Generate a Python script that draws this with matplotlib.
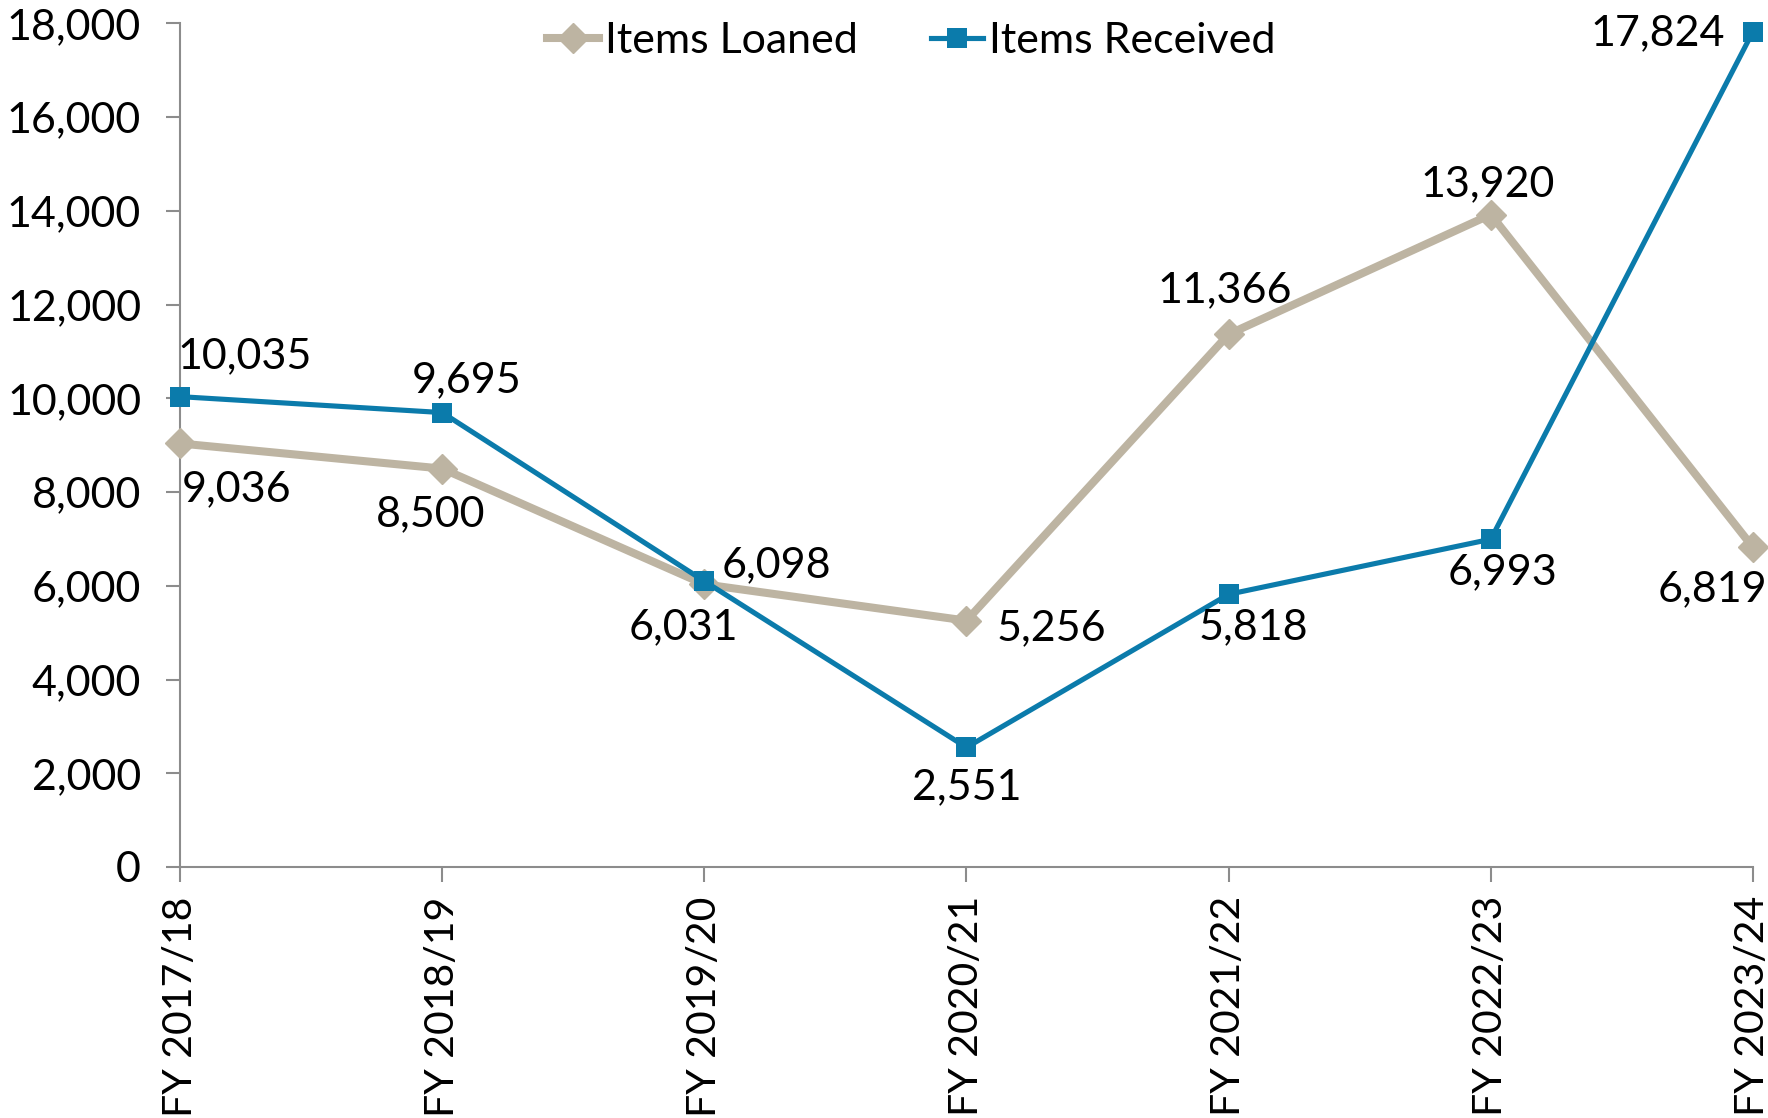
import matplotlib
matplotlib.use("Agg")
import matplotlib.pyplot as plt
from matplotlib.ticker import FuncFormatter, MultipleLocator

plt.rcParams["font.family"] = ["Lato", "DejaVu Sans"]

categories = ["FY 2017/18", "FY 2018/19", "FY 2019/20", "FY 2020/21",
              "FY 2021/22", "FY 2022/23", "FY 2023/24"]
items_loaned = [9036, 8500, 6031, 5256, 11366, 13920, 6819]
items_received = [10035, 9695, 6098, 2551, 5818, 6993, 17824]

# label offsets in pixels (dx, dy, ha) for each data label
loaned_offsets = [(57, -46, "center"), (-12, -46, "center"), (-21, -43, "center"),
                  (30, -8, "left"), (-4, 44, "center"), (-3, 30, "center"),
                  (-41, -42, "center")]
received_offsets = [(65, 40, "center"), (24, 32, "center"), (17, 16, "left"),
                    (0, -40, "center"), (25, -33, "center"), (12, -33, "center"),
                    (-28, -2, "right")]

TAN = "#BDB4A2"
BLUE = "#0B7BAB"
GREY = "#8C8C8C"
FS = 31

fig = plt.figure(figsize=(17.68, 11.18), dpi=100)
ax = fig.add_axes([180 / 1768, 1 - 867 / 1118, (1753 - 180) / 1768, (867 - 23.3) / 1118])

x = list(range(len(categories)))
ax.plot(x, items_loaned, color=TAN, lw=5.8, marker="D", ms=15, mec=TAN, mew=1,
        solid_joinstyle="round", clip_on=False, zorder=3, label="Items Loaned")
ax.plot(x, items_received, color=BLUE, lw=3.7, marker="s", ms=14, mec=BLUE, mew=0,
        clip_on=False, zorder=4, label="Items Received")

for xi, v, (dx, dy, ha) in zip(x, items_loaned, loaned_offsets):
    ax.annotate(f"{v:,}", (xi, v), xytext=(dx, dy), textcoords="offset pixels",
                ha=ha, va="center", fontsize=FS, color="black", zorder=5)
for xi, v, (dx, dy, ha) in zip(x, items_received, received_offsets):
    ax.annotate(f"{v:,}", (xi, v), xytext=(dx, dy), textcoords="offset pixels",
                ha=ha, va="center", fontsize=FS, color="black", zorder=5)

ax.set_xlim(0, len(categories) - 1)
ax.set_ylim(0, 18000)
ax.yaxis.set_major_locator(MultipleLocator(2000))
ax.yaxis.set_major_formatter(FuncFormatter(lambda v, p: f"{int(v):,}"))
ax.set_xticks(x)
ax.set_xticklabels(categories, rotation=90)

for s in ["top", "right"]:
    ax.spines[s].set_visible(False)
for s in ["left", "bottom"]:
    ax.spines[s].set_color(GREY)
    ax.spines[s].set_linewidth(1.5)
ax.tick_params(axis="y", direction="out", length=10, width=1.5, color=GREY,
               labelsize=FS, pad=18)
ax.tick_params(axis="x", direction="out", length=11, width=1.5, color=GREY,
               labelsize=29.5, pad=10)

fig.legend(loc="center left", bbox_to_anchor=(547 / 1768, 1 - 41 / 1118),
           ncol=2, frameon=False, fontsize=FS, handlelength=1.2,
           handletextpad=0.15, columnspacing=1.7, borderpad=0, borderaxespad=0)

fig.savefig("out.png", dpi=100)
